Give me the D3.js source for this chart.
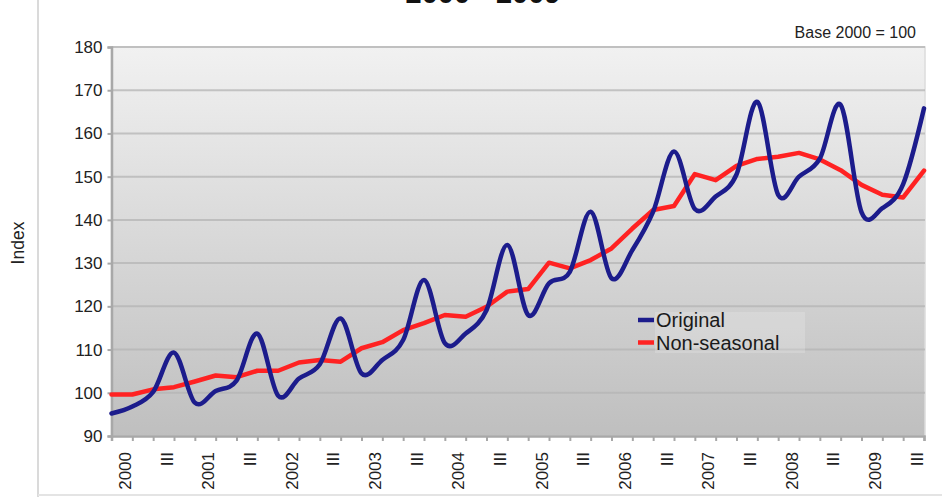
<!DOCTYPE html>
<html>
<head>
<meta charset="utf-8">
<script src="https://cdn.jsdelivr.net/npm/d3@7"></script>
<style>
  html, body { margin: 0; padding: 0; background: #fff; }
  svg { display: block; font-family: "Liberation Sans", Arial, sans-serif; }
</style>
</head>
<body>
<svg id="chart" width="942" height="497"></svg>
<script>
// Quarterly index, base 2000 = 100 (Q1 2000 .. Q4 2009)
const quarters = d3.range(40);
const quarterLabels = [
  "2000", "", "III", "", "2001", "", "III", "", "2002", "", "III", "",
  "2003", "", "III", "", "2004", "", "III", "", "2005", "", "III", "",
  "2006", "", "III", "", "2007", "", "III", "", "2008", "", "III", "",
  "2009", "", "III", ""
];
const original = [
  95.2, 96.8, 100.2, 109.3, 97.7, 100.4, 102.8, 113.7, 99.3, 103.3, 106.6, 117.2,
  104.5, 107.6, 112.2, 126.1, 111.5, 113.7, 119.1, 134.2, 118.0, 125.3, 128.0, 141.9,
  126.5, 133.0, 141.9, 155.8, 142.5, 145.4, 150.5, 167.3, 145.8, 150.0, 154.2, 166.6,
  141.8, 142.7, 148.3, 165.8
];
const nonSeasonal = [
  99.6, 99.6, 100.8, 101.3, 102.6, 104.0, 103.6, 105.1, 105.1, 107.0, 107.6, 107.2,
  110.3, 111.7, 114.5, 116.1, 118.0, 117.6, 119.9, 123.4, 124.0, 130.1, 128.8, 130.7,
  133.4, 138.0, 142.3, 143.2, 150.6, 149.2, 152.5, 154.1, 154.6, 155.5, 154.0, 151.5,
  148.1, 145.8, 145.2, 151.4
];
const yTicks = [90, 100, 110, 120, 130, 140, 150, 160, 170, 180];
const seriesNames = ["Original", "Non-seasonal"];
const seriesColors = ["#1c1c8c", "#ff2222"];

const svg = d3.select("#chart");
const plotLeft = 111.5, plotRight = 924, plotTop = 47, plotBottom = 436;

const x = d3.scalePoint().domain(quarters).range([plotLeft, plotRight]);
const y = d3.scaleLinear().domain([90, 180]).range([plotBottom, plotTop]);

// outer frame lines
svg.append("line").attr("x1", 38).attr("x2", 38).attr("y1", 0).attr("y2", 497)
  .attr("stroke", "#dadada").attr("stroke-width", 2);
svg.append("line").attr("x1", 38).attr("x2", 942).attr("y1", 495).attr("y2", 495)
  .attr("stroke", "#e4e4e4").attr("stroke-width", 2);

// title (sits above the top edge)
svg.append("text").attr("x", 483).attr("y", 2.5)
  .attr("text-anchor", "middle").attr("font-size", 29).attr("font-weight", "bold")
  .attr("fill", "#111").text("2000 - 2009");

// plot background gradient
const defs = svg.append("defs");
const grad = defs.append("linearGradient").attr("id", "bg")
  .attr("x1", 0).attr("y1", 0).attr("x2", 0).attr("y2", 1);
grad.append("stop").attr("offset", "0%").attr("stop-color", "#f1f1f1");
grad.append("stop").attr("offset", "100%").attr("stop-color", "#bfbfbf");

svg.append("rect").attr("x", plotLeft).attr("y", plotTop)
  .attr("width", plotRight - plotLeft + 1).attr("height", plotBottom - plotTop)
  .attr("fill", "url(#bg)").attr("stroke", "#dcdcdc").attr("stroke-width", 1.5);

// horizontal gridlines
svg.append("g").selectAll("line").data(yTicks.slice(1)).join("line")
  .attr("x1", plotLeft).attr("x2", plotRight + 1)
  .attr("y1", d => y(d)).attr("y2", d => y(d))
  .attr("stroke", "#b4b4b4").attr("stroke-width", 2).attr("stroke-opacity", 0.75);

// y axis
const yAxis = svg.append("g").attr("transform", `translate(${plotLeft},0)`)
  .call(d3.axisLeft(y).tickValues(yTicks).tickSize(4).tickPadding(5));
yAxis.select(".domain").attr("stroke", "#a8a8a8").attr("stroke-width", 2.5);
yAxis.selectAll(".tick line").attr("stroke", "#a8a8a8").attr("stroke-width", 2);
yAxis.selectAll(".tick text").attr("font-size", 17).attr("fill", "#222")
  .attr("font-family", "Liberation Sans, Arial, sans-serif");

// x axis
const xAxis = svg.append("g").attr("transform", `translate(0,${plotBottom})`)
  .call(d3.axisBottom(x).tickSize(5).tickFormat(""));
xAxis.select(".domain").attr("stroke", "#a8a8a8").attr("stroke-width", 2.5);
xAxis.selectAll(".tick line").attr("stroke", "#a8a8a8").attr("stroke-width", 2);

svg.append("g").selectAll("text")
  .data(quarters.filter(i => quarterLabels[i] !== "")).join("text")
  .attr("transform", i => `translate(${x(i) + 13.5},452) rotate(-90)`)
  .attr("text-anchor", "end").attr("dy", "0.35em")
  .attr("font-size", 17).attr("fill", "#222")
  .text(i => quarterLabels[i]);

// y axis title
svg.append("text").attr("transform", "translate(18,243) rotate(-90)")
  .attr("text-anchor", "middle").attr("dy", "0.35em")
  .attr("font-size", 17.5).attr("fill", "#222").text("Index");

// base note
svg.append("text").attr("x", 916).attr("y", 38).attr("text-anchor", "end")
  .attr("font-size", 16).attr("fill", "#222").text("Base 2000 = 100");

// series
const smooth = d3.line().x((d, i) => x(i)).y(d => y(d)).curve(d3.curveCardinal.tension(0));
const straight = d3.line().x((d, i) => x(i)).y(d => y(d));

svg.append("path").datum(nonSeasonal)
  .attr("d", straight).attr("fill", "none")
  .attr("stroke", seriesColors[1]).attr("stroke-width", 4.5)
  .attr("stroke-linejoin", "round").attr("stroke-linecap", "round");

svg.append("path").datum(original)
  .attr("d", smooth).attr("fill", "none")
  .attr("stroke", seriesColors[0]).attr("stroke-width", 4.5)
  .attr("stroke-linejoin", "round").attr("stroke-linecap", "round");

// legend
const legend = svg.append("g");
legend.append("rect").attr("x", 655).attr("y", 312).attr("width", 150).attr("height", 41)
  .attr("fill", "#ffffff").attr("fill-opacity", 0.18);
seriesNames.forEach((name, k) => {
  const ly = 320 + k * 22.5;
  legend.append("line").attr("x1", 638).attr("x2", 654).attr("y1", ly).attr("y2", ly)
    .attr("stroke", seriesColors[k]).attr("stroke-width", 4.5);
  legend.append("text").attr("x", 656).attr("y", ly).attr("dy", "0.35em")
    .attr("font-size", 20).attr("fill", "#1a1a1a").text(name);
});
</script>
</body>
</html>
